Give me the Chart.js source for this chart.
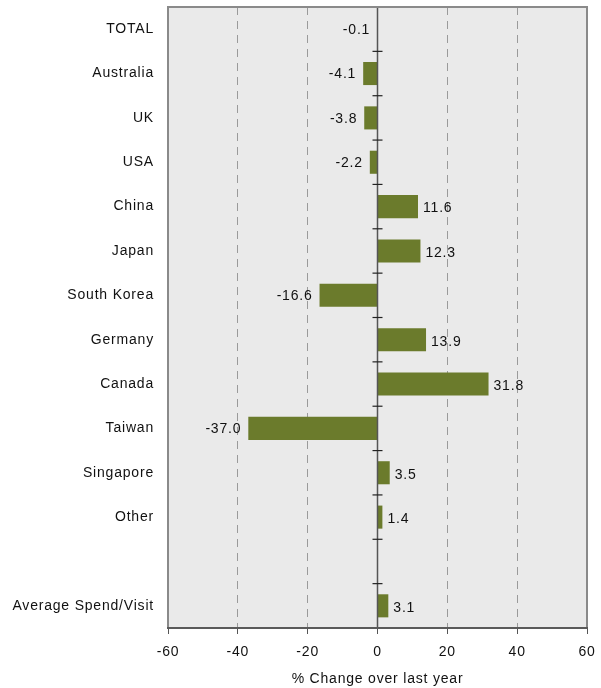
<!DOCTYPE html>
<html>
<head>
<meta charset="utf-8">
<script src="https://cdn.jsdelivr.net/npm/chart.js@4.4.0/dist/chart.umd.min.js"></script>
<style>
  html, body { margin: 0; padding: 0; background: #ffffff; }
  #wrap { width: 601px; height: 688px; }
</style>
</head>
<body>
<div id="wrap"><canvas id="chart" width="601" height="688"></canvas></div>
<script>
// categories top to bottom (blank slot before the average row)
const categories = ['TOTAL', 'Australia', 'UK', 'USA', 'China', 'Japan', 'South Korea',
                    'Germany', 'Canada', 'Taiwan', 'Singapore', 'Other', '', 'Average Spend/Visit'];
// % change over last year
const changes = [-0.1, -4.1, -3.8, -2.2, 11.6, 12.3, -16.6, 13.9, 31.8, -37.0, 3.5, 1.4, null, 3.1];
const xTicks = [-60, -40, -20, 0, 20, 40, 60];

const FONT = 'Arial, "Liberation Sans", sans-serif';
const SPACING = '0.8px';   // the original text is set loose

// background, frame, zero line, small ticks on the zero line, value labels
const decorPlugin = {
    id: 'decor',
    beforeLayout(chart) {
        chart.ctx.letterSpacing = SPACING;
    },
    beforeDraw(chart) {
        const {ctx, chartArea: a} = chart;
        ctx.letterSpacing = SPACING;
        ctx.save();
        ctx.fillStyle = '#eaeaea';
        ctx.fillRect(a.left, a.top, a.right - a.left, a.bottom - a.top);
        ctx.restore();
    },
    afterDatasetsDraw(chart) {
        const {ctx, chartArea: a, scales} = chart;
        const x0 = scales.x.getPixelForValue(0);
        ctx.save();
        // zero line
        ctx.strokeStyle = '#555555';
        ctx.lineWidth = 1.5;
        ctx.beginPath();
        ctx.moveTo(x0, a.top);
        ctx.lineTo(x0, a.bottom);
        ctx.stroke();
        // category boundary ticks
        ctx.lineWidth = 1.2;
        ctx.strokeStyle = '#222222';
        for (let i = 0; i <= categories.length; i++) {
            const y = scales.y.getPixelForValue(i - 0.5);
            ctx.beginPath();
            ctx.moveTo(x0 - 5, y);
            ctx.lineTo(x0 + 5, y);
            ctx.stroke();
        }
        // frame, bottom edge darker like the axis line
        ctx.strokeStyle = '#8a8a8a';
        ctx.lineWidth = 2;
        ctx.strokeRect(a.left, a.top, a.right - a.left, a.bottom - a.top);
        ctx.strokeStyle = '#5a5a5a';
        ctx.beginPath();
        ctx.moveTo(a.left - 1, a.bottom);
        ctx.lineTo(a.right + 1, a.bottom);
        ctx.stroke();

        // value labels
        ctx.fillStyle = '#111111';
        ctx.font = '14px ' + FONT;
        ctx.letterSpacing = SPACING;
        ctx.textBaseline = 'middle';
        const meta = chart.getDatasetMeta(0);
        meta.data.forEach((bar, i) => {
            const v = changes[i];
            if (v === null) return;
            const txt = v.toFixed(1);
            if (v < 0) {
                ctx.textAlign = 'right';
                ctx.fillText(txt, Math.min(bar.x, x0) - 7, bar.y + 1);
            } else {
                ctx.textAlign = 'left';
                ctx.fillText(txt, Math.max(bar.x, x0) + 5, bar.y + 2);
            }
        });
        ctx.restore();
    }
};

new Chart(document.getElementById('chart'), {
    type: 'bar',
    data: {
        labels: categories,
        datasets: [{
            data: changes,
            backgroundColor: '#6b7b2c',
            borderWidth: 0,
            barPercentage: 0.52,
            categoryPercentage: 1.0
        }]
    },
    options: {
        indexAxis: 'y',
        responsive: false,
        animation: false,
        layout: { padding: { top: 7, right: 14, bottom: 0, left: 0 } },
        plugins: {
            legend: { display: false },
            tooltip: { enabled: false }
        },
        scales: {
            x: {
                min: -60,
                max: 60,
                afterBuildTicks(scale) {
                    scale.ticks = xTicks.map(v => ({value: v}));
                },
                grid: {
                    drawOnChartArea: true,
                    drawTicks: true,
                    tickLength: 6,
                    tickColor: '#555555',
                    color: ctx => {
                        const v = ctx.tick ? ctx.tick.value : null;
                        if (v === 0 || v === -60 || v === 60) return 'rgba(0,0,0,0)';
                        return '#9a9a9a';
                    },
                    lineWidth: 1
                },
                border: { display: true, color: '#555555', width: 2, dash: [8, 6] },
                ticks: {
                    color: '#111111',
                    font: { family: FONT, size: 14 },
                    padding: 10,
                    maxRotation: 0
                },
                title: {
                    display: true,
                    text: '% Change over last year',
                    color: '#111111',
                    font: { family: FONT, size: 14 },
                    padding: { top: 7, bottom: 0 }
                },
                afterFit(scale) {
                    scale.height = 60;
                    scale.paddingLeft = 0;
                    scale.paddingRight = 0;
                }
            },
            y: {
                grid: { display: false },
                border: { display: false },
                ticks: {
                    color: '#111111',
                    font: { family: FONT, size: 14 },
                    padding: 6,
                    autoSkip: false
                },
                afterFit(scale) {
                    scale.width = 168;
                    scale.paddingTop = 0;
                    scale.paddingBottom = 0;
                }
            }
        }
    },
    plugins: [decorPlugin]
});
</script>
</body>
</html>
